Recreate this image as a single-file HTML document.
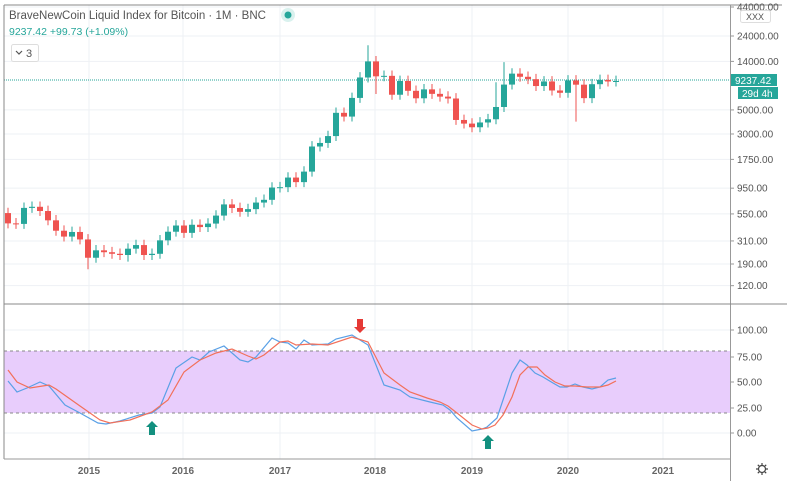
<!DOCTYPE html>
<html><head><meta charset="utf-8"><style>
body{margin:0;background:#fff;width:787px;height:481px;overflow:hidden;font-family:"Liberation Sans",sans-serif}
svg{display:block}
</style></head><body>
<svg id="s" width="787" height="481" xmlns="http://www.w3.org/2000/svg" font-family="Liberation Sans, sans-serif">
<rect width="787" height="481" fill="#fff"/>
<g id="grid" stroke="#eef1f4" stroke-width="1"></g>
<rect x="4" y="351" width="726" height="62" fill="#e8cdfc"/>
<line x1="4" y1="351" x2="730" y2="351" stroke="#888" stroke-dasharray="3,3"/>
<line x1="4" y1="413" x2="730" y2="413" stroke="#888" stroke-dasharray="3,3"/>
<line x1="4" y1="80" x2="730" y2="80" stroke="#26a69a" stroke-dasharray="1,1"/>
<g id="candles"></g>
<g id="osc" fill="none" stroke-width="1.2"></g>
<line x1="4" y1="5" x2="782" y2="5" stroke="#888"/>
<line x1="4" y1="5" x2="4" y2="459" stroke="#888"/>
<line x1="730.5" y1="5" x2="730.5" y2="481" stroke="#999"/>
<line x1="4" y1="304" x2="787" y2="304" stroke="#888"/>
<line x1="4" y1="459" x2="730" y2="459" stroke="#999"/>
<g id="ticks" font-size="10" fill="#555"></g>
<text x="9" y="19" font-size="11.5" fill="#555">BraveNewCoin Liquid Index for Bitcoin · 1M · BNC</text>
<circle cx="288" cy="15" r="7" fill="#d9f1ee"/><circle cx="288" cy="15" r="3.5" fill="#26a69a"/>
<text x="9" y="35" font-size="10.5" fill="#26a69a">9237.42 +99.73 (+1.09%)</text>
<rect x="11.5" y="44.5" width="27" height="17" rx="2" fill="#fff" stroke="#ddd"/>
<path d="M16 51 l3 3 l3 -3" stroke="#555" fill="none" stroke-width="1.2"/>
<text x="26" y="57" font-size="11" fill="#555">3</text>
<rect x="740.5" y="10.5" width="30" height="12" rx="2" fill="#fff" stroke="#ddd"/>
<text x="755" y="20" font-size="9" fill="#555" text-anchor="middle">XXX</text>
<rect x="731" y="74" width="46" height="12" fill="#26a69a"/>
<text x="735" y="84" font-size="10" fill="#fff">9237.42</text>
<rect x="738" y="87" width="40" height="12" fill="#26a69a"/>
<text x="742" y="97" font-size="10" fill="#fff">29d 4h</text>
<g font-size="10" font-weight="bold" fill="#666" text-anchor="middle">
<text x="89" y="474">2015</text><text x="183" y="474">2016</text><text x="280" y="474">2017</text><text x="375" y="474">2018</text><text x="472" y="474">2019</text><text x="568" y="474">2020</text><text x="663" y="474">2021</text></g>
<g transform="translate(762,469)" stroke="#444" fill="none" stroke-width="1.2"><circle r="3.5"/><path d="M0 -6V-4M0 4V6M-6 0H-4M4 0H6M-4.2 -4.2L-2.8 -2.8M2.8 2.8L4.2 4.2M-4.2 4.2L-2.8 2.8M2.8 -2.8L4.2 -4.2"/></g>
<path d="M152 421 l6 6 h-3 v8 h-6 v-8 h-3 z" fill="#13907f"/>
<path d="M488 435 l6 6 h-3 v8 h-6 v-8 h-3 z" fill="#13907f"/>
<path d="M360 333 l6 -6 h-3 v-8 h-6 v8 h-3 z" fill="#e53935"/>
</svg>
<script>
var NS="http://www.w3.org/2000/svg";
function el(p,t,a,txt){var e=document.createElementNS(NS,t);for(var k in a)e.setAttribute(k,a[k]);if(txt)e.textContent=txt;document.getElementById(p).appendChild(e);return e;}
function py(p){return 36+(Math.log10(24000)-Math.log10(p))*108.5;}
var yrs=[89,183,280,375,472,568,663];
yrs.forEach(function(x){el("grid","line",{x1:x,y1:5,x2:x,y2:459});});
var pt=[[44000,7],[24000],[14000],[5000],[3000],[1750],[950],[550],[310],[190],[120]];
pt.forEach(function(a){var y=a[1]||py(a[0]);el("grid","line",{x1:4,y1:y,x2:730,y2:y});el("ticks","line",{x1:730,y1:y,x2:734,y2:y,stroke:"#999"});el("ticks","text",{x:737,y:y+3.5},a[0].toFixed(2));});
[[100,330],[75,357],[50,382],[25,408],[0,433]].forEach(function(a){el("grid","line",{x1:4,y1:a[1],x2:730,y2:a[1]});el("ticks","line",{x1:730,y1:a[1],x2:734,y2:a[1],stroke:"#999"});el("ticks","text",{x:737,y:a[1]+3.5},a[0].toFixed(2));});
var c=[560,450,445,625,640,585,480,385,340,375,320,217,254,244,236,230,263,284,230,236,314,377,430,368,437,416,448,531,673,624,575,609,700,742,963,970,1190,1080,1350,2300,2480,2870,4700,4340,6450,9950,14000,10200,10300,6900,9240,7500,6400,7730,7030,6630,6370,4040,3740,3460,3830,4100,5320,8560,10800,10100,9600,8300,9150,7550,7190,9350,8540,6420,8630,9450,9140,9237];
var hiX={46:19700,63:13800,62:9000},loX={11:170,72:3900,16:200,47:7000};
for(var i=1;i<c.length;i++){
 var o=c[i-1],cl=c[i],x=8+(i-1)*8;
 var h=hiX[i]||Math.max(o,cl)*1.12,l=loX[i]||Math.min(o,cl)*0.9;
 var col=cl>=o?"#26a69a":"#ef5350";
 el("candles","line",{x1:x,y1:py(h),x2:x,y2:py(l),stroke:col,"stroke-width":1});
 var y1=py(Math.max(o,cl)),y2=py(Math.min(o,cl));
 el("candles","rect",{x:x-3,y:y1,width:6,height:Math.max(1,y2-y1),fill:col});
}
var blue="8,381 17,392 27,388 40,382 49,386 65,405 80,413 98,423 106,424 120,421 139,415 152,413 160,407 176,368 192,357 200,360 209,352 224,346 240,360 248,362 256,357 272,338 280,342 288,343 296,349 304,340 312,345 328,344 336,339 352,335 368,345 384,385 400,390 410,397 430,402 443,405 450,410 457,418 472,431 482,429 487,427 497,418 503,400 512,373 520,360 527,365 535,373 543,377 553,383 560,387 567,387 575,384 583,387 592,389 600,387 608,380 616,378";
var red="8,370 17,382 30,388 49,385 56,389 80,406 100,420 110,423 130,420 152,412 168,400 184,372 200,360 216,353 232,349 248,356 256,359 264,355 280,342 288,341 296,345 312,344 328,345 352,337 368,342 384,373 400,385 410,392 427,398 440,402 448,406 457,413 472,425 482,429 488,428 495,425 503,415 512,397 520,375 528,367 537,367 545,375 555,382 565,386 575,386 587,387 600,387 608,385 616,381";
el("osc","polyline",{points:blue,stroke:"#5aa0e6"});
el("osc","polyline",{points:red,stroke:"#f2705a"});
</script>
</body></html>
